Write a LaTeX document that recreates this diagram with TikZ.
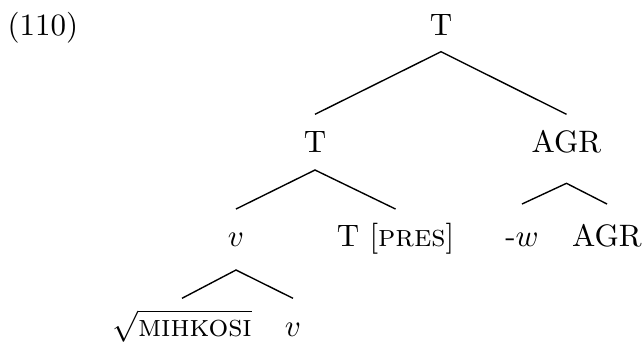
\documentclass[tikz,border=0pt]{standalone}
\begin{document}
\begin{tikzpicture}[x=0.3226pt,y=-0.3226pt,
  lbl/.style={inner sep=0pt,anchor=base},
  edge/.style={line width=0.45pt}]
\useasboundingbox (0,0) rectangle (644,341);
\node[lbl,anchor=base west] (ex) at (7,35.5) {(110)};
\node[lbl] (t0) at (441,35) {T};
\node[lbl] (t1) at (315,152) {T};
\node[lbl] (agr1) at (566.5,152) {AGR};
\node[lbl] (v1) at (236,246) {$v$};
\node[lbl] (tpres) at (395.5,246) {T [\textsc{pres}]};
\node[lbl] (w) at (522,246) {-$w$};
\node[lbl] (agr2) at (607,246) {AGR};
\node[lbl] (root) at (182,336) {$\sqrt{\textsc{mihkosi}}$};
\node[lbl] (v2) at (293,336) {$v$};
\draw[edge] ([shift={(0,-37.7)}]t1.base) -- ([shift={(0,16.7)}]t0.base) -- ([shift={(0,-37.7)}]agr1.base);
\draw[edge] ([shift={(0,-37)}]v1.base) -- ([shift={(0,18)}]t1.base) -- ([shift={(0,-37)}]tpres.base);
\draw[edge] ([shift={(0,-42)}]w.base) -- ([shift={(0,31.3)}]agr1.base) -- ([shift={(0,-42)}]agr2.base);
\draw[edge] ([shift={(0,-37.7)}]root.base) -- ([shift={(0,24)}]v1.base) -- ([shift={(0,-37.7)}]v2.base);
\end{tikzpicture}
\end{document}
